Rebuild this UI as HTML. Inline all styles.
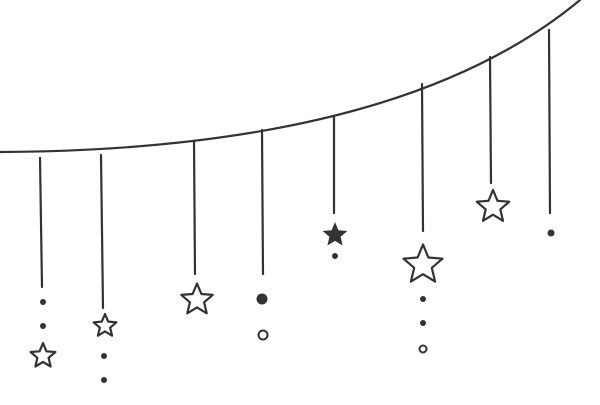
<!DOCTYPE html>
<html><head><meta charset="utf-8"><style>html,body{margin:0;padding:0;background:#fff}svg{display:block}</style></head>
<body>
<svg width="600" height="405" viewBox="0 0 600 405" xmlns="http://www.w3.org/2000/svg">
<g fill="none" stroke="#333" stroke-width="2.2" stroke-linecap="round" stroke-linejoin="round">
<path d="M0,152 Q400,150 580,0"/>
<path d="M40,158 L42,287"/>
<path d="M101,155 L103,308"/>
<path d="M194,141 L195,274"/>
<path d="M262,130 L263,274"/>
<path d="M334,116 L334,213"/>
<path d="M422,84 L423,231"/>
<path d="M490,57 L491,183"/>
<path d="M549,30 L550,213"/>
<circle cx="263" cy="335" r="4.5" stroke-width="2"/>
<circle cx="423" cy="349" r="3.5" stroke-width="2"/>
<polygon points="43,343 46.4,351.3 55.4,352 48.6,357.8 50.6,366.5 43,361.9 35.4,366.5 37.4,357.8 30.6,352 39.6,351.3"/>
<polygon points="105,314 108.2,321.6 116.4,322.3 110.1,327.7 112.1,335.7 105,331.4 97.9,335.7 99.9,327.7 93.6,322.3 101.8,321.6"/>
<polygon points="197,283.5 201.4,294 212.7,294.9 204.1,302.3 206.7,313.3 197,307.4 187.3,313.3 189.9,302.3 181.3,294.9 192.6,294"/>
<polygon points="423,244.5 428.4,257.5 442.5,258.7 431.8,267.8 435.1,281.6 423,274.2 410.9,281.6 414.2,267.8 403.5,258.7 417.6,257.5"/>
<polygon points="493,190 497.5,200.8 509.2,201.7 500.3,209.4 503,220.8 493,214.7 483,220.8 485.7,209.4 476.8,201.7 488.5,200.8"/>
</g>
<polygon fill="#333" points="335,222 338.4,230.3 347.4,231 340.6,236.8 342.6,245.5 335,240.9 327.4,245.5 329.4,236.8 322.6,231 331.6,230.3"/>
<g fill="#333">
<circle cx="43" cy="302" r="3"/>
<circle cx="43" cy="326" r="3"/>
<circle cx="104" cy="356" r="3"/>
<circle cx="104" cy="380" r="3"/>
<circle cx="262" cy="299" r="5.5"/>
<circle cx="335" cy="256" r="3"/>
<circle cx="423" cy="299" r="3"/>
<circle cx="423" cy="323" r="3"/>
<circle cx="551" cy="233" r="3.5"/>
</g>
</svg>
</body></html>
